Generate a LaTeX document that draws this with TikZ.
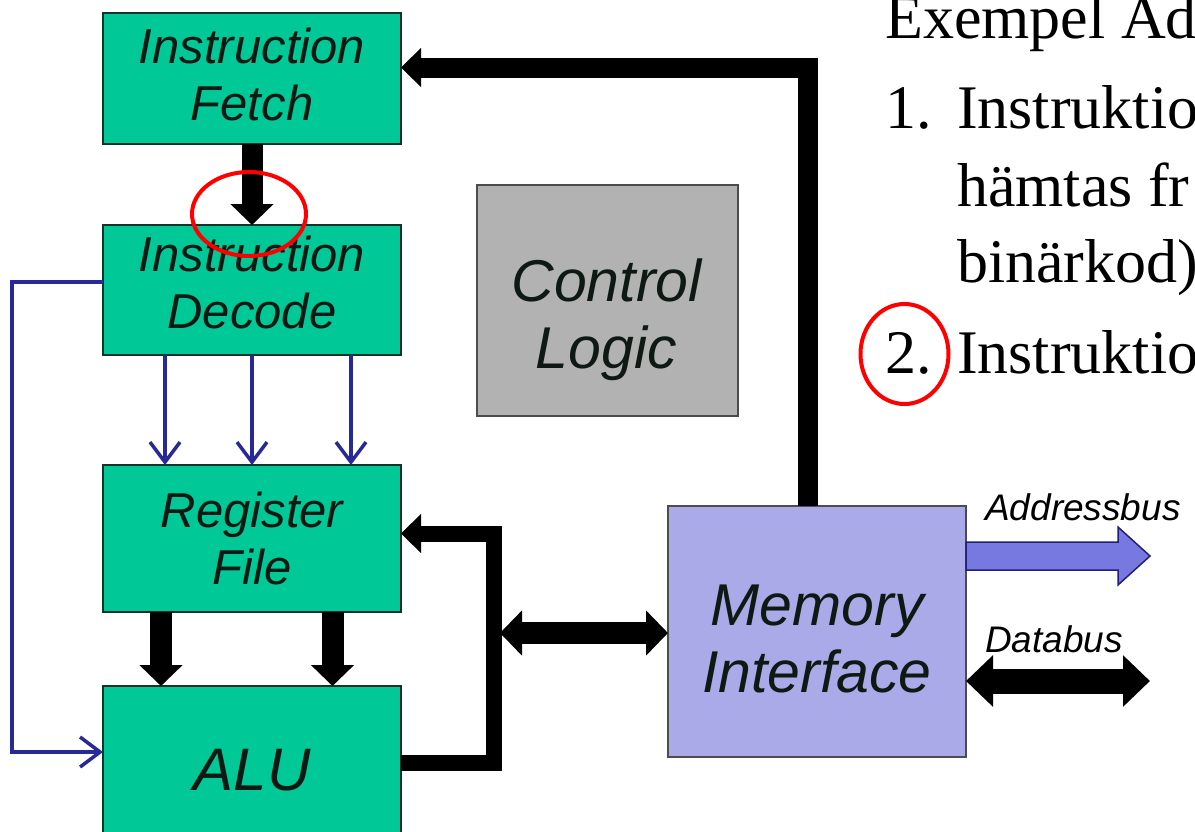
\documentclass[tikz,border=0pt]{standalone}
\usepackage{fontspec}
\setmainfont{Liberation Serif}
\newfontfamily\arialfont{Liberation Sans}
\usetikzlibrary{arrows.meta}
\definecolor{tealfill}{RGB}{0,200,150}
\definecolor{boxedge}{RGB}{20,50,40}
\definecolor{boxtext}{RGB}{15,25,20}
\definecolor{grayfill}{RGB}{178,178,178}
\definecolor{memfill}{RGB}{170,170,232}
\definecolor{busblue}{RGB}{120,120,225}
\definecolor{navyline}{RGB}{40,40,150}
\newcommand\bxfont{\arialfont\itshape\fontsize{49}{57}\selectfont}
\newcommand\bigbxfont{\arialfont\itshape\fontsize{59}{67}\selectfont}
\newcommand\busfont{\arialfont\itshape\fontsize{37}{44}\selectfont}
\newcommand\serfont{\fontsize{62}{77}\selectfont}
\begin{document}
\begin{tikzpicture}[x=1pt,y=-1pt,
  box/.style={draw=boxedge, line width=1.5pt, fill=tealfill, minimum width=298pt,
    inner sep=0pt, outer sep=0pt},
  boxlabel/.style={inner sep=0pt, align=center, font=\bxfont, text=boxtext},
  biglabel/.style={inner sep=0pt, align=center, font=\bigbxfont, text=boxtext},
  bigarrow/.style={line width=21pt, -{Triangle[width=42pt,length=21pt]}},
  busline/.style={line width=16pt, line join=miter},
  dblarrow/.style={line width=22pt, {Triangle[width=44pt,length=22pt]}-{Triangle[width=44pt,length=22pt]}},
  ctrlarrow/.style={draw=navyline, line width=3.5pt, -{Straight Barb[length=20pt,width=30pt,line width=3.5pt]}},
  ctrlline/.style={draw=navyline, line width=3.5pt, line join=miter},
  redmark/.style={draw=red, line width=4pt},
  sertext/.style={anchor=base west, font=\serfont, inner sep=0pt}
]
\useasboundingbox (0,0) rectangle (1195,831);
\clip (0,0) rectangle (1195,831);
\fill[white] (0,0) rectangle (1195,831);

% boxes
\node[box, minimum height=131pt] (fetch) at (252,78.5) {};
\node[box, minimum height=130pt] (decode) at (252,290) {};
\node[box, minimum height=147pt] (reg) at (252,538.5) {};
\node[box, minimum height=154pt] (alu) at (252,763) {};
\node[draw=black!70, line width=1.5pt, fill=grayfill, minimum width=261pt, minimum height=231pt,
  inner sep=0pt, outer sep=0pt] (ctrl) at (607.5,300.5) {};
\node[draw=black!70, line width=1.5pt, fill=memfill, minimum width=298pt, minimum height=251pt,
  inner sep=0pt, outer sep=0pt] (mem) at (817,631.5) {};

% box labels
\node[boxlabel] (fetchtxt) at ([yshift=4pt]fetch.center) {Instruction\\Fetch};
\node[boxlabel] (decodetxt) at ([yshift=8pt]decode.center) {Instruction\\Decode};
\node[boxlabel] (regtxt) at (reg.center) {Register\\File};
\node[boxlabel, font=\arialfont\itshape\fontsize{60}{68}\selectfont] (alutxt) at ([yshift=-7pt]alu.center) {ALU};
\node[biglabel] (ctrltxt) at ([yshift=-19pt,xshift=-1pt]ctrl.center) {Control\\Logic};
\node[biglabel] (memtxt) at ([yshift=-7pt]mem.center) {Memory\\Interface};

% fetch -> decode
\draw[bigarrow] (fetch.south) -- (decode.north);
% memory -> fetch
\draw[line width=20pt, line join=miter, -{Triangle[width=38pt,length=20pt]}]
  ([xshift=-9.5pt]mem.north) |- ([yshift=11pt]fetch.east);
% decode -> register (control lines)
\draw[ctrlarrow] ([xshift=-87pt]decode.south) -- ([xshift=-87pt]reg.north);
\draw[ctrlarrow] (decode.south) -- (reg.north);
\draw[ctrlarrow] ([xshift=99pt]decode.south) -- ([xshift=99pt]reg.north);
% decode -> alu loop
\coordinate (lp) at (12,282);
\draw[ctrlline, -{Straight Barb[length=20pt,width=30pt,line width=3.5pt]}]
  ([yshift=8pt]decode.west) -- (lp) |- ([yshift=11pt]alu.west);
% register -> alu
\draw[bigarrow, line width=22pt] ([xshift=-91pt]reg.south) -- ([xshift=-91pt]alu.north);
\draw[bigarrow, line width=22pt] ([xshift=80.5pt]reg.south) -- ([xshift=80.5pt]alu.north);
% alu -> register loop
\coordinate (bend) at (493.5,633);
\draw[busline, -{Triangle[width=38pt,length=20pt]}] (alu.east) -| (bend) |- ([yshift=5pt]reg.east);
% loop <-> memory
\coordinate (bendR) at (500,633);
\draw[dblarrow] (bendR) -- (mem.west |- bendR);

% address bus
\coordinate (ab0) at ([yshift=75.5pt]mem.east);
\draw[draw=navyline!80!black, line width=1.5pt, fill=busblue, line join=miter]
  (ab0) ++(0,-14) -- ++(152,0) -- ++(0,-15) -- ++(32,29) -- ++(-32,29) -- ++(0,-15) -- ++(-152,0) -- cycle;
\node[anchor=base west, font=\busfont, inner sep=0pt] (abl) at (985,520) {Addressbus};
% data bus
\coordinate (db0) at ([yshift=-49.5pt]mem.east);
\coordinate (db1) at (1150,681);
\draw[line width=25pt, {Triangle[width=50pt,length=27pt]}-{Triangle[width=50pt,length=27pt]}] (db0) -- (db1);
\node[anchor=base west, font=\busfont, inner sep=0pt] (dbl) at (985,652) {Databus};

% right-hand text
\node[sertext] (t0) at (885,38) {Exempel Ad};
\node[sertext] (n1) at (885,128) {1.};
\node[sertext] (t1) at (957,128) {Instruktio};
\node[sertext] (t2) at (957,206) {hämtas fr};
\node[sertext] (t3) at (957,282) {binärkod)};
\node[sertext] (n2) at (885,373) {2.};
\node[sertext] (t4) at (957,373) {Instruktio};

% red marks
\draw[redmark] (249,214) ellipse [x radius=57pt, y radius=42pt];
\draw[redmark] (904.5,354) ellipse [x radius=44pt, y radius=50pt];
\end{tikzpicture}
\end{document}
